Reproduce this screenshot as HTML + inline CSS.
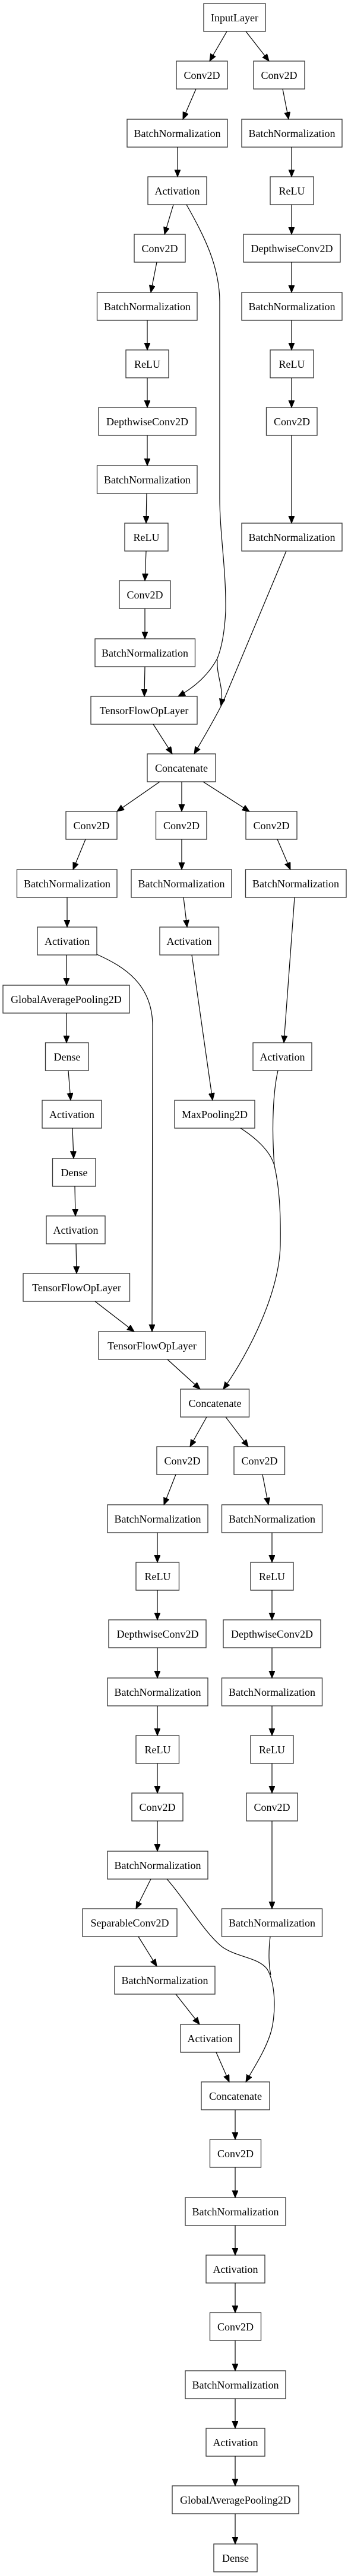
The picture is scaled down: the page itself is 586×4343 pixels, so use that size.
<!DOCTYPE html>
<html><head><meta charset="utf-8"><style>
html,body{margin:0;padding:0;background:#fff}
svg{display:block}
text{font-family:"Liberation Serif",serif;font-size:18px;fill:#000;text-anchor:middle}
rect{fill:#fff;stroke:#333;stroke-width:1.3}
path{fill:none;stroke:#000;stroke-width:1.2}
</style></head><body>
<svg width="586" height="4343" viewBox="0 0 586 4343" xmlns="http://www.w3.org/2000/svg">
<defs><marker id="a" markerUnits="userSpaceOnUse" markerWidth="13" markerHeight="11" refX="12" refY="5" orient="auto"><path d="M0,0 L12,5 L0,10 z" style="fill:#000;stroke:#000;stroke-width:1"/></marker></defs>
<g>
<rect x="343" y="6" width="104" height="47"/><text x="395" y="36">InputLayer</text>
<rect x="297" y="103" width="86" height="47"/><text x="340" y="133">Conv2D</text>
<rect x="427" y="103" width="86" height="47"/><text x="470" y="133">Conv2D</text>
<rect x="214" y="201" width="169" height="47"/><text x="298.5" y="231">BatchNormalization</text>
<rect x="407" y="201" width="169" height="47"/><text x="491.5" y="231">BatchNormalization</text>
<rect x="249" y="298" width="99" height="47"/><text x="298.5" y="328">Activation</text>
<rect x="455" y="298" width="73" height="47"/><text x="491.5" y="328">ReLU</text>
<rect x="226" y="395" width="86" height="47"/><text x="269" y="425">Conv2D</text>
<rect x="410" y="395" width="163" height="47"/><text x="491.5" y="425">DepthwiseConv2D</text>
<rect x="163.5" y="493" width="168.5" height="47"/><text x="248" y="523">BatchNormalization</text>
<rect x="407" y="493" width="169" height="47"/><text x="491.5" y="523">BatchNormalization</text>
<rect x="212" y="590" width="72" height="47"/><text x="248" y="620">ReLU</text>
<rect x="455" y="590" width="73" height="47"/><text x="491.5" y="620">ReLU</text>
<rect x="166" y="687" width="164" height="47"/><text x="248" y="717">DepthwiseConv2D</text>
<rect x="448.5" y="687" width="85.5" height="47"/><text x="491.5" y="717">Conv2D</text>
<rect x="163.5" y="785" width="168.5" height="47"/><text x="248" y="815">BatchNormalization</text>
<rect x="210" y="882" width="73" height="47"/><text x="246.5" y="912">ReLU</text>
<rect x="407" y="882" width="169" height="47"/><text x="491.5" y="912">BatchNormalization</text>
<rect x="201" y="979" width="86" height="47"/><text x="244" y="1009">Conv2D</text>
<rect x="160" y="1077" width="168.5" height="47"/><text x="244" y="1107">BatchNormalization</text>
<rect x="153" y="1174" width="179" height="47"/><text x="242.5" y="1204">TensorFlowOpLayer</text>
<rect x="248" y="1271" width="115" height="47"/><text x="305.5" y="1301">Concatenate</text>
<rect x="111" y="1368" width="86" height="47"/><text x="154" y="1398">Conv2D</text>
<rect x="262.5" y="1368" width="85.5" height="47"/><text x="305.5" y="1398">Conv2D</text>
<rect x="414" y="1368" width="86" height="47"/><text x="457" y="1398">Conv2D</text>
<rect x="28.5" y="1466" width="168.5" height="47"/><text x="113" y="1496">BatchNormalization</text>
<rect x="221" y="1466" width="169" height="47"/><text x="305.5" y="1496">BatchNormalization</text>
<rect x="413.5" y="1466" width="169.5" height="47"/><text x="498" y="1496">BatchNormalization</text>
<rect x="63" y="1563" width="100" height="47"/><text x="113" y="1593">Activation</text>
<rect x="269" y="1563" width="99.5" height="47"/><text x="318.5" y="1593">Activation</text>
<rect x="5" y="1661" width="213" height="47"/><text x="111.5" y="1691">GlobalAveragePooling2D</text>
<rect x="76.5" y="1758" width="72.5" height="47"/><text x="113" y="1788">Dense</text>
<rect x="426" y="1758" width="99" height="47"/><text x="475.5" y="1788">Activation</text>
<rect x="71" y="1855" width="100" height="47"/><text x="121" y="1885">Activation</text>
<rect x="294" y="1855" width="135" height="47"/><text x="361.5" y="1885">MaxPooling2D</text>
<rect x="88.5" y="1953" width="72.5" height="47"/><text x="125" y="1983">Dense</text>
<rect x="78" y="2050" width="99" height="47"/><text x="127.5" y="2080">Activation</text>
<rect x="39" y="2147" width="179.5" height="47"/><text x="129" y="2177">TensorFlowOpLayer</text>
<rect x="166" y="2245" width="180" height="47"/><text x="256" y="2275">TensorFlowOpLayer</text>
<rect x="304" y="2342" width="115.5" height="47"/><text x="362" y="2372">Concatenate</text>
<rect x="264" y="2439" width="86" height="47"/><text x="307" y="2469">Conv2D</text>
<rect x="394" y="2439" width="85.5" height="47"/><text x="437" y="2469">Conv2D</text>
<rect x="181" y="2537" width="169" height="47"/><text x="265.5" y="2567">BatchNormalization</text>
<rect x="373.5" y="2537" width="169" height="47"/><text x="458" y="2567">BatchNormalization</text>
<rect x="229" y="2634" width="72.5" height="47"/><text x="265.5" y="2664">ReLU</text>
<rect x="422" y="2634" width="72" height="47"/><text x="458" y="2664">ReLU</text>
<rect x="183" y="2731" width="164" height="47"/><text x="265.5" y="2761">DepthwiseConv2D</text>
<rect x="376" y="2731" width="164" height="47"/><text x="458" y="2761">DepthwiseConv2D</text>
<rect x="181" y="2829" width="169" height="47"/><text x="265.5" y="2859">BatchNormalization</text>
<rect x="373.5" y="2829" width="169" height="47"/><text x="458" y="2859">BatchNormalization</text>
<rect x="229" y="2926" width="72.5" height="47"/><text x="265.5" y="2956">ReLU</text>
<rect x="422" y="2926" width="72" height="47"/><text x="458" y="2956">ReLU</text>
<rect x="222" y="3023" width="86" height="47"/><text x="265" y="3053">Conv2D</text>
<rect x="415" y="3023" width="86" height="47"/><text x="458" y="3053">Conv2D</text>
<rect x="181" y="3121" width="169" height="47"/><text x="265.5" y="3151">BatchNormalization</text>
<rect x="139" y="3218" width="159" height="47"/><text x="218.5" y="3248">SeparableConv2D</text>
<rect x="373.5" y="3218" width="169" height="47"/><text x="458" y="3248">BatchNormalization</text>
<rect x="193" y="3315" width="169" height="47"/><text x="277.5" y="3345">BatchNormalization</text>
<rect x="304" y="3413" width="99.5" height="47"/><text x="353.5" y="3443">Activation</text>
<rect x="339" y="3510" width="115" height="47"/><text x="396.5" y="3540">Concatenate</text>
<rect x="353.5" y="3607" width="86" height="47"/><text x="396.5" y="3637">Conv2D</text>
<rect x="312" y="3705" width="169" height="47"/><text x="396.5" y="3735">BatchNormalization</text>
<rect x="347" y="3802" width="99" height="47"/><text x="396.5" y="3832">Activation</text>
<rect x="353.5" y="3899" width="86" height="47"/><text x="396.5" y="3929">Conv2D</text>
<rect x="312" y="3997" width="169" height="47"/><text x="396.5" y="4027">BatchNormalization</text>
<rect x="347" y="4094" width="99" height="47"/><text x="396.5" y="4124">Activation</text>
<rect x="290" y="4191" width="213" height="47"/><text x="396.5" y="4221">GlobalAveragePooling2D</text>
<rect x="360" y="4289" width="73" height="47"/><text x="396.5" y="4319">Dense</text>
</g>
<g marker-end="url(#a)">
<path d="M382,53 L353,103"/>
<path d="M414,53 L453,103"/>
<path d="M330,150 L308,201"/>
<path d="M476,150 L486,201"/>
<path d="M299,248 L299,298"/>
<path d="M491,248 L491,298"/>
<path d="M292,345 L277,395"/>
<path d="M491,345 L491,395"/>
<path d="M264,442 L254,493"/>
<path d="M491,442 L491,493"/>
<path d="M248,540 L248,590"/>
<path d="M491,540 L491,590"/>
<path d="M248,637 L248,687"/>
<path d="M491,637 L491,687"/>
<path d="M248,734 L248,785"/>
<path d="M491,734 L491,882"/>
<path d="M247,832 L246,882"/>
<path d="M246,929 L244,979"/>
<path d="M244,1026 L244,1077"/>
<path d="M244,1124 L243,1174"/>
<path d="M314,345 C345,400 370,450 370,510 L370,840 C370,900 381,960 380,1030 C378,1070 372,1095 366,1110 C350,1140 325,1160 300,1174"/>
<path d="M366,1112 C364,1140 378,1160 372,1190"/>
<path d="M482,929 L375,1185 C360,1215 345,1240 327,1271"/>
<path d="M258,1221 L290,1271"/>
<path d="M269,1318 L197,1368"/>
<path d="M306,1318 L306,1368"/>
<path d="M342,1318 L420,1368"/>
<path d="M144,1415 L123,1466"/>
<path d="M306,1415 L306,1466"/>
<path d="M467,1415 L489,1466"/>
<path d="M113,1513 L113,1563"/>
<path d="M309,1513 L315,1563"/>
<path d="M496,1513 L478,1758"/>
<path d="M112,1610 L112,1661"/>
<path d="M112,1708 L112,1758"/>
<path d="M115,1805 L119,1855"/>
<path d="M122,1902 L124,1953"/>
<path d="M126,2000 L127,2050"/>
<path d="M128,2097 L129,2147"/>
<path d="M163,1609 C210,1630 257,1660 257,1730 L256,2245"/>
<path d="M323,1610 L358,1855"/>
<path d="M160,2194 L226,2245"/>
<path d="M282,2292 L337,2342"/>
<path d="M405,1902 C430,1918 455,1940 462,1965 C470,2000 473,2040 472,2100 C470,2180 420,2280 376,2342"/>
<path d="M348,2389 L320,2439"/>
<path d="M380,2389 L418,2439"/>
<path d="M296,2486 L276,2537"/>
<path d="M442,2486 L452,2537"/>
<path d="M265,2584 L265,2634"/>
<path d="M458,2584 L458,2634"/>
<path d="M265,2681 L265,2731"/>
<path d="M458,2681 L458,2731"/>
<path d="M265,2778 L265,2829"/>
<path d="M458,2778 L458,2829"/>
<path d="M265,2876 L265,2926"/>
<path d="M458,2876 L458,2926"/>
<path d="M265,2973 L265,3023"/>
<path d="M458,2973 L458,3023"/>
<path d="M265,3070 L265,3121"/>
<path d="M458,3070 L458,3218"/>
<path d="M254,3168 L229,3218"/>
<path d="M233,3265 L264,3315"/>
<path d="M296,3362 L336,3413"/>
<path d="M364,3460 L386,3510"/>
<path d="M281,3168 C310,3200 345,3260 375,3283 C400,3300 435,3300 450,3320 C465,3345 465,3400 455,3430 C445,3460 428,3485 414,3510"/>
<path d="M396,3557 L396,3607"/>
<path d="M396,3654 L396,3705"/>
<path d="M396,3752 L396,3802"/>
<path d="M396,3849 L396,3899"/>
<path d="M396,3946 L396,3997"/>
<path d="M396,4044 L396,4094"/>
<path d="M396,4141 L396,4191"/>
<path d="M396,4238 L396,4289"/>
</g>
<path d="M468,1805 C460,1840 457,1900 462,1965"/>
<path d="M455,3265 C452,3290 452,3310 456,3330"/>
</svg>
</body></html>
